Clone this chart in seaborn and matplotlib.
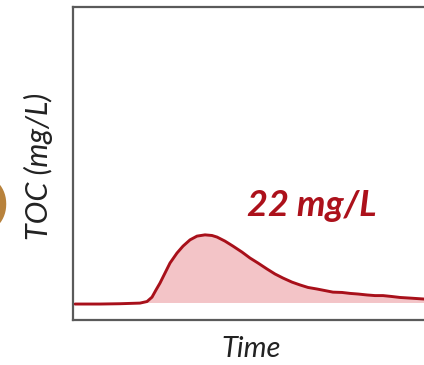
import matplotlib
matplotlib.use("Agg")
import matplotlib.pyplot as plt
import seaborn as sns
import pandas as pd

# ---- data (arbitrary units) ----
time = [2, 27, 47, 67, 74, 79, 83, 87, 92, 97, 104, 110, 117, 124, 132, 139,
        144, 152, 160, 169, 177, 185, 194, 202, 210, 219, 227, 235, 244,
        252, 260, 269, 277, 285, 294, 302, 310, 319, 327, 337, 351]
toc = [5.1, 5.1, 5.2, 5.4, 5.9, 7.3, 9.6, 11.8, 15.0, 18.2, 21.4, 23.6, 25.6,
       26.8, 27.2, 27.0, 26.5, 25.2, 23.6, 21.7, 19.8, 18.2, 16.3, 14.7,
       13.4, 12.1, 11.2, 10.4, 9.9, 9.4, 8.9, 8.8, 8.5, 8.3, 8.0, 7.8, 7.8,
       7.5, 7.2, 7.0, 6.7]
baseline = 5.6
annotation = "22 mg/L"
xlabel = "Time"
ylabel = "TOC (mg/L)"

df = pd.DataFrame({"Time": time, "TOC": toc})

sns.set_theme(style="white")
plt.rcParams["font.family"] = ["Lato", "DejaVu Sans"]

W, H = 424, 365
fig = plt.figure(figsize=(W / 100, H / 100), dpi=100)
ax = fig.add_axes([73 / W, 45 / H, 357 / W, 313 / H])

line_col = "#A8101A"
fill_col = "#F3C4C7"

sns.lineplot(data=df, x="Time", y="TOC", ax=ax, color=line_col, lw=2.1)
ax.fill_between(df["Time"], baseline, df["TOC"], where=df["TOC"] > baseline,
                color=fill_col, lw=0, interpolate=True, zorder=1)

ax.set_xlim(0, 357)
ax.set_ylim(0, 100)
ax.set_xticks([])
ax.set_yticks([])
for s in ax.spines.values():
    s.set_color("#5a5a5a")
    s.set_linewidth(1.6)

ax.set_xlabel(xlabel, fontsize=21, fontstyle="italic", color="#222222")
ax.set_ylabel(ylabel, fontsize=22, fontstyle="italic", color="#222222")
ax.xaxis.set_label_coords(0.5, -0.050)
ax.yaxis.set_label_coords(-0.056, 0.49)

ax.text(174, 33.2, annotation, fontsize=26, fontweight="bold",
        fontstyle="italic", color="#AC111B", ha="left", va="baseline")

fig.text(9 / W, 1 - 211 / H, "D", fontsize=60, fontweight="bold",
         color="#B8823C", ha="right", va="center")

fig.savefig("out.png", dpi=100)
